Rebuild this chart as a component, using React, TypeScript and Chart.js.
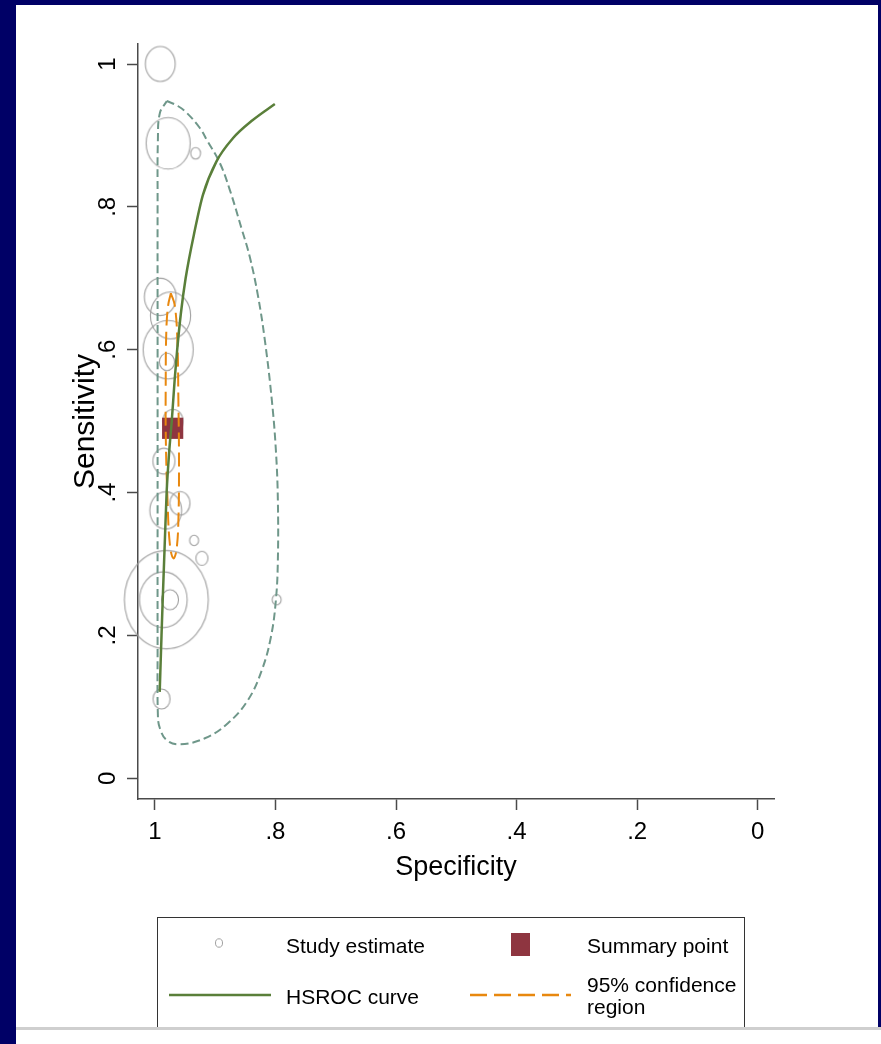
import React, { useEffect, useRef } from 'react';
import { Chart, registerables } from 'chart.js';

Chart.register(...registerables);

const FONT = '"Liberation Sans", Arial, Helvetica, sans-serif';

// Individual study estimates (specificity, sensitivity) and relative study weight
const studySpecificity = [0.991, 0.978, 0.9325, 0.991, 0.974, 0.978, 0.98, 0.97, 0.985, 0.982, 0.9585, 0.935, 0.922, 0.981, 0.986, 0.975, 0.989, 0.798];
const studySensitivity = [1.0, 0.889, 0.875, 0.674, 0.648, 0.6, 0.583, 0.5, 0.444, 0.375, 0.385, 0.333, 0.308, 0.25, 0.25, 0.25, 0.111, 0.25];
const studyWeight = [11, 24, 1.2, 12.5, 20, 31, 2.8, 5, 6, 12.5, 5, 1, 1.8, 87, 28, 3.6, 3.6, 1];

// Summary operating point
const summarySpecificity = [0.9705];
const summarySensitivity = [0.49];

// HSROC curve
const hsrocSpecificity = [0.992, 0.989, 0.987, 0.984, 0.9805, 0.976, 0.972, 0.967, 0.963, 0.957, 0.949, 0.9337, 0.9204, 0.898, 0.8706, 0.8375, 0.801];
const hsrocSensitivity = [0.121, 0.2, 0.25, 0.32, 0.4, 0.46, 0.5, 0.56, 0.6, 0.65, 0.7, 0.7675, 0.8165, 0.8634, 0.896, 0.9216, 0.944];

// 95% confidence region around the summary point
const confSpecificity = [0.9735, 0.967, 0.9627, 0.961, 0.96, 0.961, 0.9643, 0.9693, 0.975, 0.979, 0.9818, 0.982, 0.981, 0.978, 0.9735];
const confSensitivity = [0.679, 0.662, 0.613, 0.529, 0.445, 0.361, 0.319, 0.308, 0.326, 0.389, 0.473, 0.557, 0.627, 0.662, 0.679];

// 95% prediction region
const predSpecificity = [0.9801, 0.9619, 0.9469, 0.9254, 0.9138, 0.8922, 0.8756, 0.8557, 0.8425, 0.8292, 0.8176, 0.806, 0.7993, 0.796, 0.796, 0.7993, 0.8076, 0.8226, 0.8458, 0.8789, 0.9171, 0.9585, 0.9801, 0.9917, 0.995, 0.9955, 0.9955, 0.9955, 0.9955, 0.995, 0.9917, 0.9801];
const predSensitivity = [0.9482, 0.9412, 0.9314, 0.9104, 0.8936, 0.8613, 0.8235, 0.7682, 0.7297, 0.6765, 0.6134, 0.5294, 0.4594, 0.3894, 0.3053, 0.2493, 0.1975, 0.1513, 0.1092, 0.077, 0.056, 0.0476, 0.0532, 0.07, 0.0882, 0.1793, 0.3894, 0.5994, 0.8095, 0.8936, 0.9314, 0.9482];

// Axis ticks (both axes share them)
const tickValues = [0, 0.2, 0.4, 0.6, 0.8, 1];
const tickLabels = ['0', '.2', '.4', '.6', '.8', '1'];

const NAVY = '#000066';
const STUDY_COLOR = '#a0a0a0';
const SUMMARY_COLOR = '#8e3540';
const HSROC_COLOR = '#5a7f3a';
const CONF_COLOR = '#e8880f';
const PRED_COLOR = '#6f978a';
const AXIS_COLOR = '#4a4a4a';

// markers are drawn slightly taller than wide
const MARKER_ASPECT = 1.17;
const markerRadius = (w: number) => 4.5 * Math.sqrt(w);

const pts = (xs: number[], ys: number[]) => xs.map((x, i) => ({ x, y: ys[i] }));

function ellipseMarker(rx: number, ry: number, color: string) {
  const c = document.createElement('canvas');
  const w = Math.ceil(rx * 2 + 4);
  const h = Math.ceil(ry * 2 + 4);
  c.width = w;
  c.height = h;
  const g = c.getContext('2d')!;
  g.strokeStyle = color;
  g.lineWidth = 1.1;
  g.beginPath();
  g.ellipse(w / 2, h / 2, rx, ry, 0, 0, Math.PI * 2);
  g.stroke();
  return c;
}

const tickLabel = (v: number) => {
  const i = tickValues.indexOf(v);
  return i >= 0 ? tickLabels[i] : '';
};

export default function App() {
  const ref = useRef<HTMLCanvasElement>(null);

  useEffect(() => {
    if (!ref.current) return;
    const radii = studyWeight.map(markerRadius);
    const markers = radii.map((r) => ellipseMarker(r, r * MARKER_ASPECT, STUDY_COLOR));

    const chart = new Chart(ref.current, {
      type: 'scatter',
      data: {
        datasets: [
          {
            label: 'HSROC curve',
            data: pts(hsrocSpecificity, hsrocSensitivity),
            showLine: true,
            borderColor: HSROC_COLOR,
            borderWidth: 2.5,
            pointRadius: 0,
            cubicInterpolationMode: 'monotone',
            fill: false,
          },
          {
            label: '95% confidence region',
            data: pts(confSpecificity, confSensitivity),
            showLine: true,
            borderColor: CONF_COLOR,
            borderDash: [14, 6],
            borderWidth: 2,
            pointRadius: 0,
            tension: 0.4,
            fill: false,
          },
          {
            label: '95% prediction region',
            data: pts(predSpecificity, predSensitivity),
            showLine: true,
            borderColor: PRED_COLOR,
            borderDash: [8, 4],
            borderWidth: 2,
            pointRadius: 0,
            tension: 0.4,
            fill: false,
          },
          {
            label: 'Summary point',
            data: pts(summarySpecificity, summarySensitivity),
            pointStyle: 'rect',
            pointRadius: 15,
            backgroundColor: SUMMARY_COLOR,
            borderWidth: 0,
          },
          {
            label: 'Study estimate',
            data: pts(studySpecificity, studySensitivity),
            pointStyle: markers as any,
            pointRadius: radii,
            borderWidth: 0,
            clip: false as any,
          },
        ],
      },
      options: {
        responsive: false,
        animation: false,
        events: [],
        layout: { padding: { left: 0, top: 44, right: 107, bottom: 159.8 } },
        plugins: {
          legend: { display: false },
          tooltip: { enabled: false },
          title: { display: false },
        },
        scales: {
          x: {
            type: 'linear',
            position: 'bottom',
            reverse: true,
            min: -0.027,
            max: 1.028,
            afterBuildTicks: (s: any) => {
              s.ticks = tickValues.map((v) => ({ value: v }));
            },
            afterFit: (s: any) => {
              s.height = 85.2;
            },
            ticks: {
              autoSkip: false,
              minRotation: 0,
              maxRotation: 0,
              padding: 7.5,
              color: '#000',
              font: { family: FONT, size: 24 },
              callback: (v: any) => tickLabel(v),
            },
            grid: {
              display: true,
              drawOnChartArea: false,
              drawTicks: true,
              tickLength: 11,
              tickColor: AXIS_COLOR,
              tickWidth: 1.5,
            },
            border: { display: true, color: AXIS_COLOR, width: 1.5 },
            title: {
              display: true,
              text: 'Specificity',
              color: '#000',
              font: { family: FONT, size: 27 },
              padding: { top: 0, bottom: 0 },
            },
          },
          y: {
            type: 'linear',
            position: 'left',
            min: -0.029,
            max: 1.028,
            afterBuildTicks: (s: any) => {
              s.ticks = tickValues.map((v) => ({ value: v }));
            },
            afterFit: (s: any) => {
              s.width = 138;
            },
            ticks: {
              autoSkip: false,
              minRotation: 90,
              maxRotation: 90,
              crossAlign: 'center',
              padding: 9,
              color: '#000',
              font: { family: FONT, size: 24 },
              callback: (v: any) => tickLabel(v),
            },
            grid: {
              display: true,
              drawOnChartArea: false,
              drawTicks: true,
              tickLength: 11,
              tickColor: AXIS_COLOR,
              tickWidth: 1.5,
            },
            border: { display: true, color: AXIS_COLOR, width: 1.5 },
            title: {
              display: true,
              text: 'Sensitivity',
              color: '#000',
              font: { family: FONT, size: 30 },
              padding: { top: 68, bottom: 0 },
            },
          },
        },
      },
    } as any);

    return () => chart.destroy();
  }, []);

  const text = (left: number, top: number, content: React.ReactNode) => (
    <div
      style={{
        position: 'absolute',
        left,
        top,
        fontFamily: FONT,
        fontSize: 21,
        lineHeight: '22px',
        color: '#000',
        whiteSpace: 'nowrap',
      }}
    >
      {content}
    </div>
  );

  return (
    <div style={{ position: 'absolute', left: 0, top: 0, width: 881, height: 1044, background: NAVY, overflow: 'hidden' }}>
      <div style={{ position: 'absolute', left: 16, top: 5, width: 862, height: 1022, background: '#fff' }} />
      <canvas ref={ref} width={881} height={1044} style={{ position: 'absolute', left: 0, top: 0 }} />

      {/* legend */}
      <div
        style={{
          position: 'absolute',
          left: 157,
          top: 917,
          width: 588,
          height: 120,
          border: '1px solid #333',
          borderBottom: 'none',
          boxSizing: 'border-box',
        }}
      />
      <svg width={881} height={1044} style={{ position: 'absolute', left: 0, top: 0 }}>
        <ellipse cx={219} cy={943} rx={3.5} ry={4.2} fill="none" stroke={STUDY_COLOR} strokeWidth={1} />
        <rect x={511} y={933} width={19} height={23} fill={SUMMARY_COLOR} />
        <line x1={169} y1={995} x2={271} y2={995} stroke={HSROC_COLOR} strokeWidth={2.5} />
        <line x1={470} y1={995} x2={571} y2={995} stroke={CONF_COLOR} strokeWidth={2.5} strokeDasharray="17 7" />
      </svg>
      {text(286, 935, 'Study estimate')}
      {text(587, 935, 'Summary point')}
      {text(286, 986, 'HSROC curve')}
      {text(587, 974, <>95% confidence<br />region</>)}

      <div style={{ position: 'absolute', left: 16, top: 1027, width: 865, height: 3, background: '#cfcfcf' }} />
      <div style={{ position: 'absolute', left: 16, top: 1030, width: 865, height: 14, background: '#fff' }} />
    </div>
  );
}
